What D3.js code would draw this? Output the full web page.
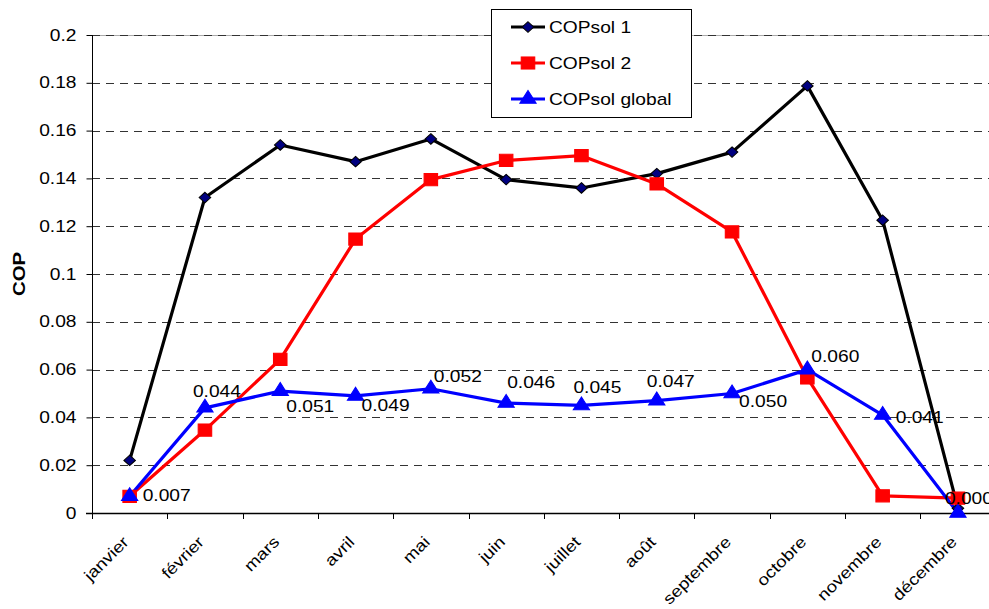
<!DOCTYPE html>
<html><head><meta charset="utf-8">
<script src="https://cdn.jsdelivr.net/npm/d3@7"></script>
<style>body{margin:0;background:#fff}svg{display:block;font-family:"Liberation Sans",Arial,sans-serif}</style>
</head><body><svg id="c" width="989" height="609"></svg>
<script>
const months = ["janvier","février","mars","avril","mai","juin","juillet","août","septembre","octobre","novembre","décembre"];
const cop1 = [0.022,0.132,0.154,0.147,0.1565,0.1395,0.136,0.142,0.151,0.1787,0.1225,0.002];
const cop2 = [0.007,0.0347,0.0643,0.1146,0.1395,0.1475,0.1495,0.1377,0.1176,0.0565,0.0072,0.0062];
const copGlobal = [0.007,0.044,0.051,0.049,0.052,0.046,0.045,0.047,0.050,0.060,0.041,0.000];
const yTicks = [0,0.02,0.04,0.06,0.08,0.1,0.12,0.14,0.16,0.18,0.2];
const seriesNames = ["COPsol 1","COPsol 2","COPsol global"];
// label offsets (styling): dx to text start, dy to text middle
const labelOffsets = [[13,-1],[-12,-16],[6,15],[6,10],[3,-12],[1,-21],[-8,-18],[-10,-19],[7,8],[4,-13],[13,2],[-13,-15]];

const SX = 1.2, FS = 16;
const svg = d3.select("#c");
const L = 92, T = 35, B = 513, step = 75.3;
const x = d3.scaleBand().domain(months).range([L, L + step*months.length]).padding(0);
const y = d3.scaleLinear().domain([0,0.2]).range([B, T]);
const cx = m => x(m) + x.bandwidth()/2;
const R = L + step*12;

// gridlines
svg.append("line").attr("x1",L).attr("x2",R).attr("y1",y(0.2)+0.5).attr("y2",y(0.2)+0.5).attr("stroke","#aaa").attr("stroke-width",1);
svg.append("g").selectAll("line").data(yTicks.filter(d=>d>0)).join("line")
  .attr("x1",L).attr("x2",R).attr("y1",d=>Math.round(y(d))+0.5).attr("y2",d=>Math.round(y(d))+0.5)
  .attr("stroke","#333").attr("stroke-width",1).attr("stroke-dasharray","8,6");

// y axis
const ya = svg.append("g").attr("transform",`translate(${L+0.5},0)`)
  .call(d3.axisLeft(y).tickValues(yTicks).tickSize(6).tickPadding(10).tickFormat(d=>String(+d.toFixed(2))));
ya.select(".domain").attr("d",`M0,${y(0.2)}V${y(0)}`).attr("stroke","#000");
ya.selectAll(".tick line").attr("stroke","#000");
ya.selectAll("text").attr("x",0).attr("transform",`translate(-16,0) scale(${SX},1)`)
  .attr("font-size",FS).attr("fill","#000").attr("font-family","Liberation Sans, Arial, sans-serif");

// x axis
const xg = svg.append("g");
xg.append("line").attr("x1",L-6).attr("x2",R).attr("y1",B+0.5).attr("y2",B+0.5).attr("stroke","#000").attr("stroke-width",1.5);
xg.selectAll("line.t").data(d3.range(months.length+1)).join("line").attr("class","t")
  .attr("x1",i=>Math.round(L+i*step)+0.5).attr("x2",i=>Math.round(L+i*step)+0.5)
  .attr("y1",B).attr("y2",B+6).attr("stroke","#000");
xg.selectAll("text").data(months).join("text")
  .attr("transform",d=>`translate(${cx(d)},${B+30}) rotate(-45) scale(1.17,1)`)
  .attr("text-anchor","end").attr("font-size",16).attr("fill","#000").text(d=>d);

// y title
svg.append("text").attr("transform","translate(25,274) rotate(-90) scale("+SX+",1)").attr("text-anchor","middle")
  .attr("font-size",17).attr("font-weight","bold").text("COP");

const line = d3.line().x((d,i)=>cx(months[i])).y(d=>y(d));
const colors = ["#000000","#ff0000","#0000ff"];
const data = [cop1,cop2,copGlobal];
data.forEach((s,k)=>{
  svg.append("path").datum(s).attr("d",line).attr("fill","none").attr("stroke",colors[k]).attr("stroke-width",3.2).attr("stroke-linejoin","round");
});
const diamond = d3.symbol().type(d3.symbolDiamond2).size(70);
const square = d3.symbol().type(d3.symbolSquare).size(150);
const tri = d3.symbol().type(d3.symbolTriangle).size(95);
function markers(s, sym, fill, stroke){
  svg.append("g").selectAll("path").data(s).join("path")
   .attr("transform",(d,i)=>`translate(${cx(months[i])},${y(d)}) scale(1.1,1)`)
   .attr("d",sym).attr("fill",fill).attr("stroke",stroke).attr("stroke-width",1);
}
markers(cop1, diamond, "#000080", "#000");
markers(cop2, square, "#ff0000", "#ff0000");
markers(copGlobal, tri, "#0000ff", "#0000ff");

// labels
svg.append("g").selectAll("text").data(copGlobal).join("text")
  .attr("transform",(d,i)=>`translate(${cx(months[i])+labelOffsets[i][0]},${y(d)+labelOffsets[i][1]}) scale(${SX},1)`)
  .attr("dy","0.35em").attr("font-size",FS).attr("fill","#000")
  .text(d=>d.toFixed(3));

// legend
const lg = svg.append("g");
lg.append("rect").attr("x",491.5).attr("y",9.5).attr("width",200).attr("height",108).attr("fill","#fff").attr("stroke","#000");
const markSyms = [diamond,square,tri];
const markFill = ["#000080","#ff0000","#0000ff"];
seriesNames.forEach((n,i)=>{
  const yy = 27 + i*36;
  lg.append("line").attr("x1",511).attr("x2",545).attr("y1",yy).attr("y2",yy).attr("stroke",colors[i]).attr("stroke-width",3);
  lg.append("path").attr("transform",`translate(528,${yy}) scale(1.1,1)`).attr("d",markSyms[i]).attr("fill",markFill[i]).attr("stroke",i==0?"#000":markFill[i]);
  lg.append("text").attr("transform",`translate(549,${yy}) scale(${SX},1)`).attr("dy","0.35em").attr("font-size",FS).text(n);
});
</script></body></html>
